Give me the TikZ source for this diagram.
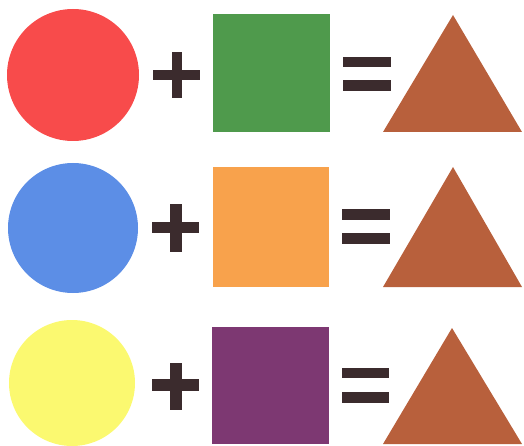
\documentclass[tikz,border=0pt]{standalone}
\usetikzlibrary{calc}
\definecolor{ink}{HTML}{3B2B2D}
\definecolor{redc}{HTML}{F84B4B}
\definecolor{greenc}{HTML}{4F9A4C}
\definecolor{bluec}{HTML}{5C8EE6}
\definecolor{orangec}{HTML}{F8A24C}
\definecolor{yellowc}{HTML}{FBF970}
\definecolor{purplec}{HTML}{7D3872}
\definecolor{brown}{HTML}{B8603C}
\tikzset{sym/.style={fill=ink,draw=none},
disc/.style={draw=none},
box/.style={draw=none},
tri/.style={fill=brown,draw=none}}
\begin{document}
\begin{tikzpicture}[x=1pt,y=-1pt]
\useasboundingbox (0,0) rectangle (524,446);
% row 1
\fill[disc,redc] (73,75) circle (66);
\fill[sym] (153,70) rectangle (200,80);
\fill[sym] (172,52) rectangle (182,98);
\fill[box,greenc] (213,14) rectangle (330,132);
\fill[sym] (343,57) rectangle (391,67);
\fill[sym] (343,80) rectangle (391,91);
\fill[tri] (453,15) -- (522,132) -- (383,132) -- cycle;
% row 2
\fill[disc,bluec] (73,228) circle (65);
\fill[sym] (152,222) rectangle (199,233);
\fill[sym] (170,204) rectangle (182,252);
\fill[box,orangec] (213,167) rectangle (329,287);
\fill[sym] (342,209) rectangle (390,220);
\fill[sym] (342,233) rectangle (390,244);
\fill[tri] (453,167) -- (522,287) -- (383,287) -- cycle;
% row 3
\fill[disc,yellowc] (72,383) circle (63);
\fill[sym] (152,379) rectangle (199,391);
\fill[sym] (170,363) rectangle (182,410);
\fill[box,purplec] (212,327) rectangle (329,444);
\fill[sym] (342,368) rectangle (389,378);
\fill[sym] (342,392) rectangle (389,403);
\fill[tri] (452,328) -- (522,444) -- (383,444) -- cycle;
\end{tikzpicture}
\end{document}
